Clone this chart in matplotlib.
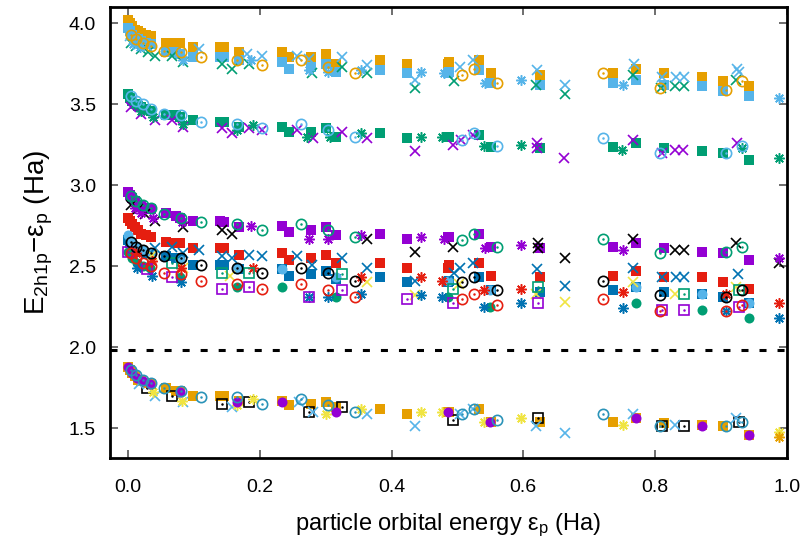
import matplotlib
matplotlib.use("Agg")
import matplotlib.pyplot as plt

plt.rcParams['font.family'] = ['Liberation Sans', 'DejaVu Sans']
plt.rcParams['mathtext.fontset'] = 'custom'
plt.rcParams['mathtext.rm'] = 'Liberation Sans'
plt.rcParams['mathtext.it'] = 'Liberation Sans'

# ---------------- data ----------------
# shared x grid of the filled-square series
sq_x = [0.0, 0.003, 0.006, 0.01, 0.015, 0.02, 0.027, 0.035, 0.058, 0.073, 0.078, 0.098,
        0.139, 0.146, 0.169, 0.234, 0.245, 0.278, 0.301, 0.315, 0.382, 0.424, 0.485,
        0.488, 0.533, 0.551, 0.626, 0.737, 0.771, 0.814, 0.872, 0.903, 0.943]
b1_orange_sq = [4.02, 4.00, 3.98, 3.96, 3.95, 3.94, 3.93, 3.92, 3.88, 3.88, 3.88, 3.85,
                3.85, 3.85, 3.82, 3.82, 3.79, 3.79, 3.81, 3.75, 3.77, 3.75, 3.75, 3.76,
                3.77, 3.69, 3.68, 3.69, 3.72, 3.69, 3.67, 3.64, 3.61]
b1_skyblue_sq = [3.97, 3.95, 3.93, 3.91, 3.90, 3.89, 3.88, 3.87, 3.82, 3.82, 3.81, 3.79,
                 3.79, 3.79, 3.77, 3.76, 3.72, 3.73, 3.75, 3.70, 3.71, 3.69, 3.69, 3.70,
                 3.71, 3.63, 3.62, 3.63, 3.65, 3.62, 3.61, 3.58, 3.55]
b2_green_sq = [3.56, 3.54, 3.52, 3.50, 3.49, 3.48, 3.47, 3.46, 3.43, 3.43, 3.42, 3.40,
               3.39, 3.39, 3.36, 3.36, 3.33, 3.33, 3.35, 3.30, 3.32, 3.29, 3.30, 3.30,
               3.31, 3.235, 3.23, 3.235, 3.26, 3.23, 3.21, 3.20, 3.155]
b3_purple_sq = [2.96, 2.94, 2.92, 2.90, 2.88, 2.87, 2.86, 2.85, 2.83, 2.81, 2.80, 2.78,
                2.78, 2.77, 2.74, 2.75, 2.71, 2.72, 2.74, 2.69, 2.70, 2.67, 2.68, 2.68,
                2.70, 2.62, 2.61, 2.62, 2.64, 2.61, 2.59, 2.58, 2.54]
b4_red_sq = [2.80, 2.78, 2.76, 2.74, 2.72, 2.70, 2.69, 2.68, 2.65, 2.64, 2.64, 2.61,
             2.61, 2.61, 2.57, 2.58, 2.54, 2.55, 2.57, 2.52, 2.52, 2.49, 2.49, 2.51,
             2.52, 2.44, 2.43, 2.44, 2.47, 2.43, 2.43, 2.40, 2.36]
b4_blue_sq = [2.66, 2.64, 2.62, 2.61, 2.60, 2.59, 2.58, 2.57, 2.56, 2.55, 2.55, 2.51,
              2.51, 2.51, 2.48, 2.48, 2.44, 2.45, 2.47, 2.42, 2.43, 2.40, 2.40, 2.41,
              2.43, 2.35, 2.34, 2.35, 2.37, 2.34, 2.33, 2.31, 2.27]
b5_orange_sq = [1.88, 1.86, 1.84, 1.82, 1.80, 1.79, 1.78, 1.77, 1.75, 1.73, 1.73, 1.70,
                1.70, 1.70, 1.67, 1.67, 1.64, 1.65, 1.66, 1.63, 1.62, 1.59, 1.60, 1.60,
                1.62, 1.54, 1.54, 1.54, 1.56, 1.53, 1.52, 1.51, 1.46]

# shared x grid of the filled-circle series
dot_x = [0.0, 0.006, 0.013, 0.022, 0.033, 0.078, 0.166, 0.234, 0.316, 0.486, 0.550,
         0.771, 0.872, 0.943]
b4_skyblue_dot = [2.69, 2.65, 2.62, 2.60, 2.58, 2.54, 2.48, 2.48, 2.43, 2.41, 2.35, 2.37, 2.33, 2.27]
b4_green_dot = [2.59, 2.55, 2.52, 2.50, 2.49, 2.43, 2.37, 2.37, 2.31, 2.31, 2.25, 2.27, 2.23, 2.18]
b5_purple_dot = [1.88, 1.84, 1.81, 1.79, 1.77, 1.72, 1.66, 1.66, 1.60, 1.60, 1.54, 1.56, 1.51, 1.46]

# shared x grid of the open-circle series
circ_x = [0.004, 0.012, 0.022, 0.034, 0.055, 0.080, 0.111, 0.165, 0.203, 0.263, 0.303,
          0.345, 0.507, 0.526, 0.560, 0.721, 0.807, 0.908, 0.932]
b1_orange_circ = [3.93, 3.90, 3.88, 3.86, 3.83, 3.82, 3.79, 3.77, 3.74, 3.77, 3.73,
                  3.69, 3.68, 3.72, 3.63, 3.69, 3.60, 3.59, 3.64]
b2_skyblue_circ = [3.55, 3.52, 3.50, 3.47, 3.44, 3.43, 3.39, 3.38, 3.35, 3.38, 3.34,
                   3.30, 3.28, 3.32, 3.24, 3.29, 3.20, 3.20, 3.24]
b3_green_circ = [2.93, 2.90, 2.88, 2.86, 2.82, 2.80, 2.77, 2.76, 2.72, 2.76, 2.72,
                 2.68, 2.66, 2.70, 2.62, 2.67, 2.58, 2.59, 2.62]
b4_black_circ = [2.65, 2.62, 2.60, 2.58, 2.56, 2.55, 2.51, 2.49, 2.46, 2.49, 2.46,
                 2.41, 2.40, 2.43, 2.35, 2.41, 2.32, 2.31, 2.35]
b4_red_circ = [2.58, 2.55, 2.52, 2.50, 2.46, 2.45, 2.41, 2.39, 2.36, 2.39, 2.35,
               2.31, 2.30, 2.33, 2.26, 2.30, 2.22, 2.22, 2.26]
b5_blue_circ = [1.86, 1.83, 1.80, 1.78, 1.75, 1.73, 1.69, 1.69, 1.65, 1.68, 1.64,
                1.60, 1.59, 1.62, 1.55, 1.59, 1.51, 1.51, 1.54]

# cross (x) series
b1_skyblue_x_x = [0.003, 0.01, 0.018, 0.028, 0.108, 0.181, 0.204, 0.257, 0.275, 0.325, 0.362,
                  0.436, 0.504, 0.523, 0.621, 0.664, 0.768, 0.811, 0.832, 0.844, 0.925, 0.928]
b1_skyblue_x_y = [3.92, 3.90, 3.88, 3.86, 3.84, 3.81, 3.80, 3.80, 3.78, 3.79, 3.74,
                  3.65, 3.73, 3.77, 3.71, 3.62, 3.75, 3.67, 3.67, 3.67, 3.72, 3.70]
b1_green_x_x = [0.005, 0.012, 0.02, 0.03, 0.040, 0.066, 0.083, 0.143, 0.157, 0.184, 0.279,
                0.325, 0.362, 0.436, 0.495, 0.620, 0.664, 0.766, 0.809, 0.831, 0.844, 0.923]
b1_green_x_y = [3.88, 3.86, 3.84, 3.82, 3.80, 3.80, 3.76, 3.75, 3.72, 3.75, 3.69,
                3.73, 3.69, 3.60, 3.64, 3.62, 3.56, 3.68, 3.60, 3.61, 3.61, 3.65]
b2_purple_x_x = [0.005, 0.020, 0.040, 0.066, 0.084, 0.143, 0.157, 0.183, 0.203, 0.257, 0.280,
                 0.325, 0.362, 0.436, 0.494, 0.506, 0.523, 0.621, 0.621, 0.662, 0.767, 0.811,
                 0.831, 0.843, 0.925]
b2_purple_x_y = [3.48, 3.44, 3.40, 3.40, 3.36, 3.35, 3.32, 3.35, 3.34, 3.34, 3.29,
                 3.33, 3.29, 3.21, 3.25, 3.28, 3.31, 3.26, 3.23, 3.17, 3.28, 3.20,
                 3.22, 3.22, 3.26]
b3_black_x_x = [0.005, 0.015, 0.025, 0.040, 0.083, 0.143, 0.157, 0.362, 0.436, 0.494, 0.623,
                0.623, 0.664, 0.767, 0.831, 0.844, 0.923, 0.989]
b3_black_x_y = [2.88, 2.85, 2.82, 2.78, 2.74, 2.72, 2.70, 2.67, 2.59, 2.62, 2.64,
                2.61, 2.55, 2.67, 2.60, 2.60, 2.64, 2.52]
b4_blue_x_x = [0.040, 0.066, 0.083, 0.108, 0.143, 0.157, 0.183, 0.204, 0.257, 0.279, 0.325,
               0.362, 0.436, 0.495, 0.504, 0.524, 0.621, 0.664, 0.767, 0.811, 0.832, 0.844, 0.926]
b4_blue_x_y = [2.61, 2.62, 2.58, 2.60, 2.56, 2.55, 2.57, 2.56, 2.56, 2.51, 2.55,
               2.49, 2.41, 2.46, 2.49, 2.52, 2.48, 2.38, 2.49, 2.43, 2.43, 2.43, 2.45]
b4_yellow_x_x = [0.036, 0.083, 0.154, 0.362, 0.435, 0.503, 0.620, 0.664, 0.767, 0.831, 0.923]
b4_yellow_x_y = [2.57, 2.49, 2.44, 2.40, 2.32, 2.39, 2.33, 2.28, 2.40, 2.33, 2.37]
b5_skyblue_x_x = [0.017, 0.040, 0.083, 0.157, 0.260, 0.280, 0.362, 0.436, 0.504, 0.523,
                  0.620, 0.664, 0.766, 0.831, 0.923]
b5_skyblue_x_y = [1.77, 1.70, 1.66, 1.63, 1.66, 1.60, 1.59, 1.51, 1.59, 1.62,
                  1.51, 1.47, 1.59, 1.52, 1.56]

# asterisk series
b1_skyblue_ast_x = [0.008, 0.018, 0.083, 0.187, 0.275, 0.303, 0.354, 0.445, 0.480, 0.542,
                    0.596, 0.752, 0.989]
b1_skyblue_ast_y = [3.87, 3.85, 3.77, 3.77, 3.71, 3.70, 3.71, 3.70, 3.69, 3.63, 3.65, 3.62, 3.54]
b2_green_ast_x = [0.01, 0.02, 0.037, 0.083, 0.165, 0.189, 0.272, 0.306, 0.354, 0.445, 0.477,
                  0.541, 0.596, 0.750, 0.932, 0.989]
b2_green_ast_y = [3.50, 3.46, 3.42, 3.38, 3.34, 3.37, 3.30, 3.30, 3.32, 3.30, 3.30,
                  3.24, 3.25, 3.22, 3.23, 3.17]
b3_purple_ast_x = [0.01, 0.02, 0.037, 0.081, 0.187, 0.274, 0.303, 0.354, 0.445, 0.480,
                   0.542, 0.596, 0.752, 0.989]
b3_purple_ast_y = [2.86, 2.83, 2.80, 2.77, 2.75, 2.67, 2.67, 2.69, 2.68, 2.67,
                   2.61, 2.63, 2.60, 2.55]
b4_red_ast_x = [0.012, 0.036, 0.080, 0.189, 0.354, 0.445, 0.477, 0.541, 0.596, 0.752, 0.908, 0.989]
b4_red_ast_y = [2.58, 2.53, 2.49, 2.49, 2.43, 2.43, 2.41, 2.35, 2.36, 2.34, 2.33, 2.27]
b4_blue_ast_x = [0.013, 0.036, 0.080, 0.275, 0.303, 0.354, 0.445, 0.477, 0.541, 0.596,
                 0.752, 0.908, 0.989]
b4_blue_ast_y = [2.49, 2.44, 2.40, 2.31, 2.31, 2.33, 2.32, 2.31, 2.25, 2.27, 2.24, 2.22, 2.18]
b5_yellow_ast_x = [0.037, 0.081, 0.166, 0.189, 0.301, 0.354, 0.445, 0.477, 0.541, 0.596,
                   0.752, 0.989]
b5_yellow_ast_y = [1.72, 1.67, 1.64, 1.68, 1.59, 1.62, 1.60, 1.60, 1.54, 1.56, 1.52, 1.475]
b5_orange_ast_x = [0.989]
b5_orange_ast_y = [1.445]

# open-square series
b4_green_osq_x = [0.066, 0.142, 0.183, 0.325, 0.494, 0.623, 0.844, 0.928]
b4_green_osq_y = [2.52, 2.46, 2.46, 2.45, 2.36, 2.37, 2.33, 2.35]
b4_purple_osq_x = [0.0, 0.028, 0.066, 0.143, 0.183, 0.275, 0.325, 0.424, 0.494, 0.623,
                   0.811, 0.844, 0.928]
b4_purple_osq_y = [2.59, 2.48, 2.43, 2.36, 2.37, 2.31, 2.35, 2.30, 2.27, 2.27, 2.23, 2.23, 2.25]
b5_black_osq_x = [0.028, 0.066, 0.143, 0.183, 0.275, 0.325, 0.494, 0.623, 0.811, 0.844, 0.928]
b5_black_osq_y = [1.75, 1.70, 1.65, 1.66, 1.60, 1.63, 1.55, 1.56, 1.51, 1.51, 1.54]

gap_level = 1.98

# ---------------- styles ----------------
PURPLE = '#9400D3'
GREEN = '#009E73'
SKY = '#56B4E9'
ORANGE = '#E69F00'
YELLOW = '#F0E442'
BLUE = '#0072B2'
RED = '#E51E10'
BLACK = '#000000'
TEAL = '#2a93b8'

fig = plt.figure(figsize=(8.01, 5.37), dpi=100)
ax = fig.add_axes([0.137, 0.147, 0.845, 0.840])

SQ = dict(marker='s', ms=7.0, ls='none', mew=0)
DOT = dict(marker='o', ms=7.2, ls='none', mew=0)
CIRC = dict(marker='o', ms=7.4, ls='none', mfc='none', mew=1.2)
CROSS = dict(marker='x', ms=7.0, ls='none', mew=1.2)
AST = dict(marker=(8, 2, 0), ms=7.5, ls='none', mew=1.1)
OSQ = dict(marker='s', ms=7.0, ls='none', mfc='none', mew=1.2)


def centre(x, y, c):
    ax.plot(x, y, marker='o', ms=1.8, ls='none', mew=0, color=c)


# band 4 (lower-middle)
ax.plot(sq_x, b4_red_sq, color=RED, **SQ)
ax.plot(sq_x, b4_blue_sq, color=BLUE, **SQ)
ax.plot(dot_x, b4_skyblue_dot, color=SKY, **DOT)
ax.plot(dot_x, b4_green_dot, color=GREEN, **DOT)
ax.plot(b4_blue_x_x, b4_blue_x_y, color=BLUE, **CROSS)
ax.plot(b4_yellow_x_x, b4_yellow_x_y, color=YELLOW, **CROSS)
ax.plot(b4_red_ast_x, b4_red_ast_y, color=RED, **AST)
ax.plot(b4_blue_ast_x, b4_blue_ast_y, color=BLUE, **AST)
ax.plot(b4_green_osq_x, b4_green_osq_y, color=GREEN, **OSQ)
centre(b4_green_osq_x, b4_green_osq_y, GREEN)
ax.plot(b4_purple_osq_x, b4_purple_osq_y, color=PURPLE, **OSQ)
centre(b4_purple_osq_x, b4_purple_osq_y, PURPLE)
ax.plot(circ_x, b4_black_circ, color=BLACK, **CIRC)
centre(circ_x, b4_black_circ, BLACK)
ax.plot(circ_x, b4_red_circ, color=RED, **CIRC)
centre(circ_x, b4_red_circ, RED)

# band 3
ax.plot(sq_x, b3_purple_sq, color=PURPLE, **SQ)
ax.plot(b3_black_x_x, b3_black_x_y, color=BLACK, **CROSS)
ax.plot(b3_purple_ast_x, b3_purple_ast_y, color=PURPLE, **AST)
ax.plot(circ_x, b3_green_circ, color=GREEN, **CIRC)
centre(circ_x, b3_green_circ, GREEN)

# band 2
ax.plot(sq_x, b2_green_sq, color=GREEN, **SQ)
ax.plot(b2_purple_x_x, b2_purple_x_y, color=PURPLE, **CROSS)
ax.plot(b2_green_ast_x, b2_green_ast_y, color=GREEN, **AST)
ax.plot(circ_x, b2_skyblue_circ, color=SKY, **CIRC)
centre(circ_x, b2_skyblue_circ, SKY)

# band 1 (top)
ax.plot(sq_x, b1_orange_sq, color=ORANGE, **SQ)
ax.plot(sq_x, b1_skyblue_sq, color=SKY, **SQ)
ax.plot(b1_green_x_x, b1_green_x_y, color=GREEN, **CROSS)
ax.plot(b1_skyblue_x_x, b1_skyblue_x_y, color=SKY, **CROSS)
ax.plot(b1_skyblue_ast_x, b1_skyblue_ast_y, color=SKY, **AST)
ax.plot(circ_x, b1_orange_circ, color=ORANGE, **CIRC)
centre(circ_x, b1_orange_circ, ORANGE)

# band 5 (bottom)
ax.plot(sq_x, b5_orange_sq, color=ORANGE, **SQ)
ax.plot(b5_black_osq_x, b5_black_osq_y, color=BLACK, **OSQ)
centre(b5_black_osq_x, b5_black_osq_y, BLACK)
ax.plot(b5_skyblue_x_x, b5_skyblue_x_y, color=SKY, **CROSS)
ax.plot(b5_yellow_ast_x, b5_yellow_ast_y, color=YELLOW, **AST)
ax.plot(b5_orange_ast_x, b5_orange_ast_y, color=ORANGE, **AST)
ax.plot(dot_x, b5_purple_dot, color=PURPLE, **DOT)
ax.plot(circ_x, b5_blue_circ, color=TEAL, **CIRC)
centre(circ_x, b5_blue_circ, TEAL)

# gap line
ax.axhline(gap_level, color='black', lw=2.2, ls=(0, (2.3, 3.6)))

ax.set_xlim(-0.028, 1.0)
ax.set_ylim(1.315, 4.10)
ax.set_xticks([0.0, 0.2, 0.4, 0.6, 0.8, 1.0])
ax.set_yticks([1.5, 2.0, 2.5, 3.0, 3.5, 4.0])
ax.xaxis.set_major_formatter(matplotlib.ticker.FormatStrFormatter('%.1f'))
ax.yaxis.set_major_formatter(matplotlib.ticker.FormatStrFormatter('%.1f'))
ax.tick_params(direction='in', length=6, width=1.2, color='#555555',
               top=True, right=True, labelsize=14)
ax.tick_params(axis='x', pad=15)
ax.tick_params(axis='y', pad=10)
for s in ax.spines.values():
    s.set_linewidth(2.0)

ax.set_xlabel(r'particle orbital energy ε$_{\rm p}$ (Ha)', fontsize=17, labelpad=11)
ax.set_ylabel(r'E$_{\rm 2h1p}$−ε$_{\rm p}$ (Ha)', fontsize=20, labelpad=10)

fig.savefig('out.png', dpi=100)
